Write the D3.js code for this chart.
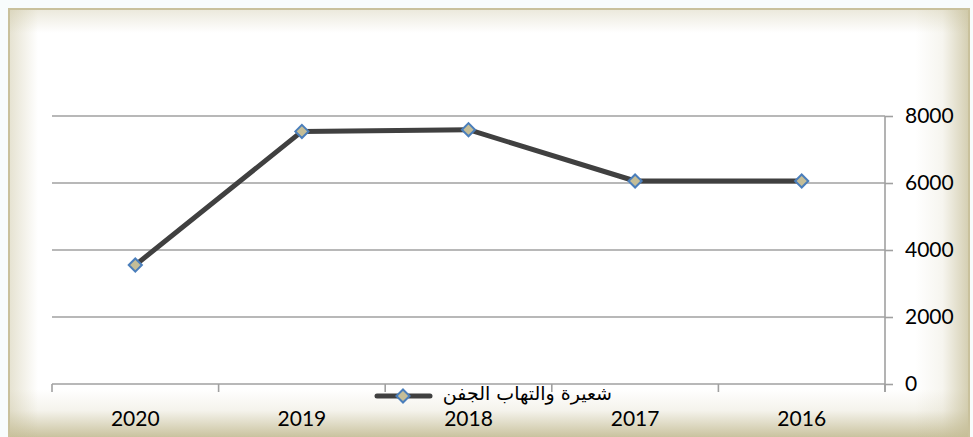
<!DOCTYPE html>
<html><head><meta charset="utf-8">
<script src="https://cdn.jsdelivr.net/npm/d3@7"></script>
<style>html,body{margin:0;padding:0;background:#f8fcfc;}svg{display:block;}</style>
</head><body>
<svg id="c" width="973" height="437"></svg>
<script>
const categories = ["2020","2019","2018","2017","2016"];
const values = [3550, 7540, 7590, 6060, 6060];
const yTicks = [0, 2000, 4000, 6000, 8000];
const seriesName = "شعيرة والتهاب الجفن";

const W = 973, H = 437;
const svg = d3.select("#c");
const defs = svg.append("defs");
function grad(id, x1,y1,x2,y2, stops){
  const g = defs.append("linearGradient").attr("id",id).attr("x1",x1).attr("y1",y1).attr("x2",x2).attr("y2",y2);
  stops.forEach(s=>g.append("stop").attr("offset",s[0]).attr("stop-color","#c4bc94").attr("stop-opacity",s[1]));
}
grad("gb","0","0","0","1",[[0,0],[0.45,0.18],[1,0.9]]);
grad("gr","0","0","1","0",[[0,0],[0.5,0.15],[1,0.75]]);
grad("gl","1","0","0","0",[[0,0],[1,0.45]]);
grad("gt","0","1","0","0",[[0,0],[1,0.35]]);

const fx = 8, fy = 8, fw = 962, fh = 429;
svg.append("rect").attr("x",fx).attr("y",fy).attr("width",fw).attr("height",fh+4).attr("fill","#ffffff");
svg.append("rect").attr("x",fx).attr("y",fy+fh-48).attr("width",fw).attr("height",48).attr("fill","url(#gb)");
svg.append("rect").attr("x",fx+fw-55).attr("y",fy).attr("width",55).attr("height",fh).attr("fill","url(#gr)");
svg.append("rect").attr("x",fx).attr("y",fy).attr("width",30).attr("height",fh).attr("fill","url(#gl)");
svg.append("rect").attr("x",fx).attr("y",fy).attr("width",fw).attr("height",25).attr("fill","url(#gt)");
svg.append("rect").attr("x",fx+1).attr("y",fy+1).attr("width",fw-2).attr("height",fh+4)
  .attr("fill","none").attr("stroke","#c9c19c").attr("stroke-width",2);

const x = d3.scaleBand().domain(categories).range([52, 885]);
const y = d3.scaleLinear().domain([0, 8000]).range([384, 116]);
const numFont = "Lato, 'Open Sans', sans-serif";

// gridlines
svg.append("g").selectAll("line").data(yTicks.filter(d=>d>0)).join("line")
  .attr("x1",52).attr("x2",885).attr("y1",d=>y(d)).attr("y2",d=>y(d))
  .attr("stroke","#a0a0a0").attr("stroke-width",1.6);

// y axis on right
const yAxis = svg.append("g").attr("transform","translate(885,0)")
  .call(d3.axisRight(y).tickValues(yTicks).tickSize(8).tickPadding(12).tickFormat(d3.format("d")));
yAxis.select(".domain").attr("stroke","#a0a0a0").attr("stroke-width",1.6).attr("d","M0,116V392");
yAxis.selectAll(".tick line").attr("stroke","#a0a0a0").attr("stroke-width",1.6);
yAxis.selectAll("text").attr("fill","#000").style("font-family",numFont).style("font-size","21px");

// x axis
const xAxis = svg.append("g").attr("transform","translate(0,384)")
  .call(d3.axisBottom(x).tickSize(0).tickPadding(27));
xAxis.select(".domain").attr("stroke","#a0a0a0").attr("stroke-width",1.6).attr("d","M52,0H885");
xAxis.selectAll("text").attr("fill","#000").style("font-family",numFont).style("font-size","21px");
const bounds = categories.map(c=>x(c)).concat([x(categories[categories.length-1])+x.bandwidth()]);
xAxis.selectAll(".bt").data(bounds).join("line").attr("class","bt")
  .attr("x1",d=>d).attr("x2",d=>d).attr("y1",0).attr("y2",8)
  .attr("stroke","#a0a0a0").attr("stroke-width",1.6);

// line
const pts = categories.map((c,i)=>[x(c)+x.bandwidth()/2, y(values[i])]);
svg.append("path").attr("d", d3.line()(pts)).attr("fill","none")
  .attr("stroke","#404040").attr("stroke-width",5).attr("stroke-linejoin","round");
const diamond = d3.symbol().type(d3.symbolDiamond2).size(110);
svg.append("g").selectAll("path").data(pts).join("path")
  .attr("transform",d=>`translate(${d[0]},${d[1]})`).attr("d",diamond)
  .attr("fill","#c4bd97").attr("stroke","#4a7ebb").attr("stroke-width",2);

// legend
const lg = svg.append("g");
lg.append("line").attr("x1",377).attr("x2",430).attr("y1",396).attr("y2",396)
  .attr("stroke","#404040").attr("stroke-width",5).attr("stroke-linecap","round");
lg.append("path").attr("transform","translate(403,396)").attr("d",diamond)
  .attr("fill","#c4bd97").attr("stroke","#4a7ebb").attr("stroke-width",2);
lg.append("text").attr("x",612).attr("y",400).attr("text-anchor","start").attr("direction","rtl")
  .style("font-family","'DejaVu Sans', sans-serif").style("font-size","19px").attr("fill","#000")
  .text(seriesName);
</script>
</body></html>
